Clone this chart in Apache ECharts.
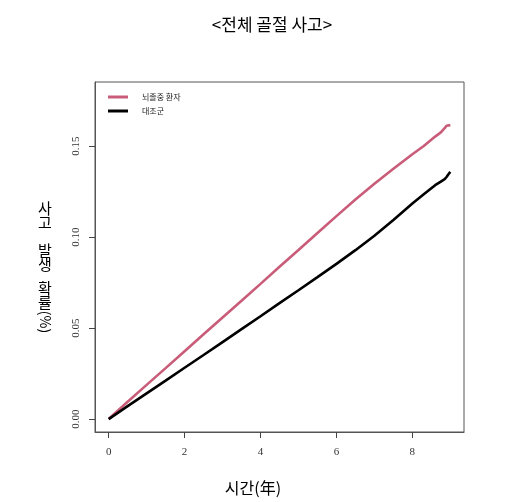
<!DOCTYPE html>
<html>
<head>
<meta charset="utf-8">
<script src="https://cdn.jsdelivr.net/npm/echarts@6/dist/echarts.min.js"></script>
<style>
  html, body { margin: 0; padding: 0; background: #fff; }
  #chart { width: 520px; height: 502px; }
</style>
</head>
<body>
<div id="chart"></div>
<script>
// 누적 사고 발생 확률 (읽은 값)
var years = [0, 0.5, 1, 1.5, 2, 2.5, 3, 3.5, 4, 4.5, 5, 5.5, 6, 6.5, 7, 7.5, 8, 8.3, 8.6, 8.75, 8.85, 8.9, 8.95, 9.0];
var strokeRisk = [0, 0.0095, 0.0188, 0.0280, 0.0373, 0.0466, 0.0558, 0.0650, 0.0743, 0.0837, 0.0929, 0.1022, 0.1115, 0.1206, 0.1293, 0.1375, 0.1455, 0.1500, 0.1552, 0.1575, 0.1598, 0.1612, 0.1616, 0.1615];
var controlRisk = [0, 0.0071, 0.0141, 0.0211, 0.0282, 0.0352, 0.0423, 0.0494, 0.0565, 0.0637, 0.0708, 0.0780, 0.0853, 0.0928, 0.1007, 0.1094, 0.1185, 0.1235, 0.1285, 0.1305, 0.1318, 0.1330, 0.1345, 0.1358];
var seriesNames = ['뇌졸중 환자', '대조군'];
var xTicks = [0, 2, 4, 6, 8];
var yTicks = [0, 0.05, 0.10, 0.15];

function pairs(xs, ys) {
  return xs.map(function (x, i) { return [x, ys[i]]; });
}

var chart = echarts.init(document.getElementById('chart'));
var tickFont = { fontFamily: 'Liberation Serif', fontSize: 11, color: '#333' };
var korean = 'Noto Sans CJK KR';

chart.setOption({
  animation: false,
  grid: {
    left: 95, right: 56, top: 82, bottom: 70,
    show: true, borderColor: '#555', borderWidth: 1
  },
  legend: {
    orient: 'vertical',
    left: 103, top: 88,
    itemWidth: 20, itemHeight: 3, itemGap: 6,
    icon: 'rect',
    textStyle: { fontFamily: korean, fontSize: 8, color: '#222', padding: [0, 0, 0, 9] },
    data: seriesNames
  },
  xAxis: {
    type: 'value', min: -0.36, max: 9.36,
    axisLine: { show: true, onZero: false, lineStyle: { color: '#555' } },
    splitLine: { show: false },
    axisTick: { show: true, inside: false, length: 6, lineStyle: { color: '#444' }, customValues: xTicks },
    axisLabel: Object.assign({ margin: 15, customValues: xTicks, formatter: function (v) { return String(v); } }, tickFont)
  },
  yAxis: {
    type: 'value', min: -0.0071, max: 0.1852,
    axisLine: { show: true, onZero: false, lineStyle: { color: '#555' } },
    splitLine: { show: false },
    axisTick: { show: true, inside: false, length: 6, lineStyle: { color: '#444' }, customValues: yTicks },
    axisLabel: Object.assign({ margin: 13, rotate: 90, customValues: yTicks, formatter: function (v) { return v.toFixed(2); } }, tickFont)
  },
  series: [
    {
      name: seriesNames[0], type: 'line', showSymbol: false,
      data: pairs(years, strokeRisk),
      itemStyle: { color: '#C95C78' },
      lineStyle: { width: 2.6, color: '#C95C78' }
    },
    {
      name: seriesNames[1], type: 'line', showSymbol: false,
      data: pairs(years, controlRisk),
      itemStyle: { color: '#000' },
      lineStyle: { width: 2.6, color: '#000' }
    }
  ],
  graphic: [
    {
      type: 'text', x: 272, y: 25, z: 10,
      style: { text: '<전체 골절 사고>', fontFamily: korean, fontSize: 17, fill: '#000', align: 'center', verticalAlign: 'middle' }
    },
    {
      type: 'text', x: 253, y: 488,
      style: { text: '시간(年)', fontFamily: korean, fontSize: 16, fill: '#000', align: 'center', verticalAlign: 'middle' }
    },
    {
      type: 'text', x: 45, y: 201,
      style: { text: '사\n고', fontFamily: korean, fontSize: 15, lineHeight: 14, fill: '#000', align: 'center', verticalAlign: 'top' }
    },
    {
      type: 'text', x: 45, y: 243,
      style: { text: '발\n생', fontFamily: korean, fontSize: 15, lineHeight: 14, fill: '#000', align: 'center', verticalAlign: 'top' }
    },
    {
      type: 'text', x: 45, y: 281,
      style: { text: '확\n률', fontFamily: korean, fontSize: 15, lineHeight: 14, fill: '#000', align: 'center', verticalAlign: 'top' }
    },
    {
      type: 'text', x: 45, y: 322, rotation: -Math.PI / 2,
      style: { text: '(%)', fontFamily: korean, fontSize: 14, fill: '#000', align: 'center', verticalAlign: 'middle' }
    }
  ]
});
</script>
</body>
</html>
